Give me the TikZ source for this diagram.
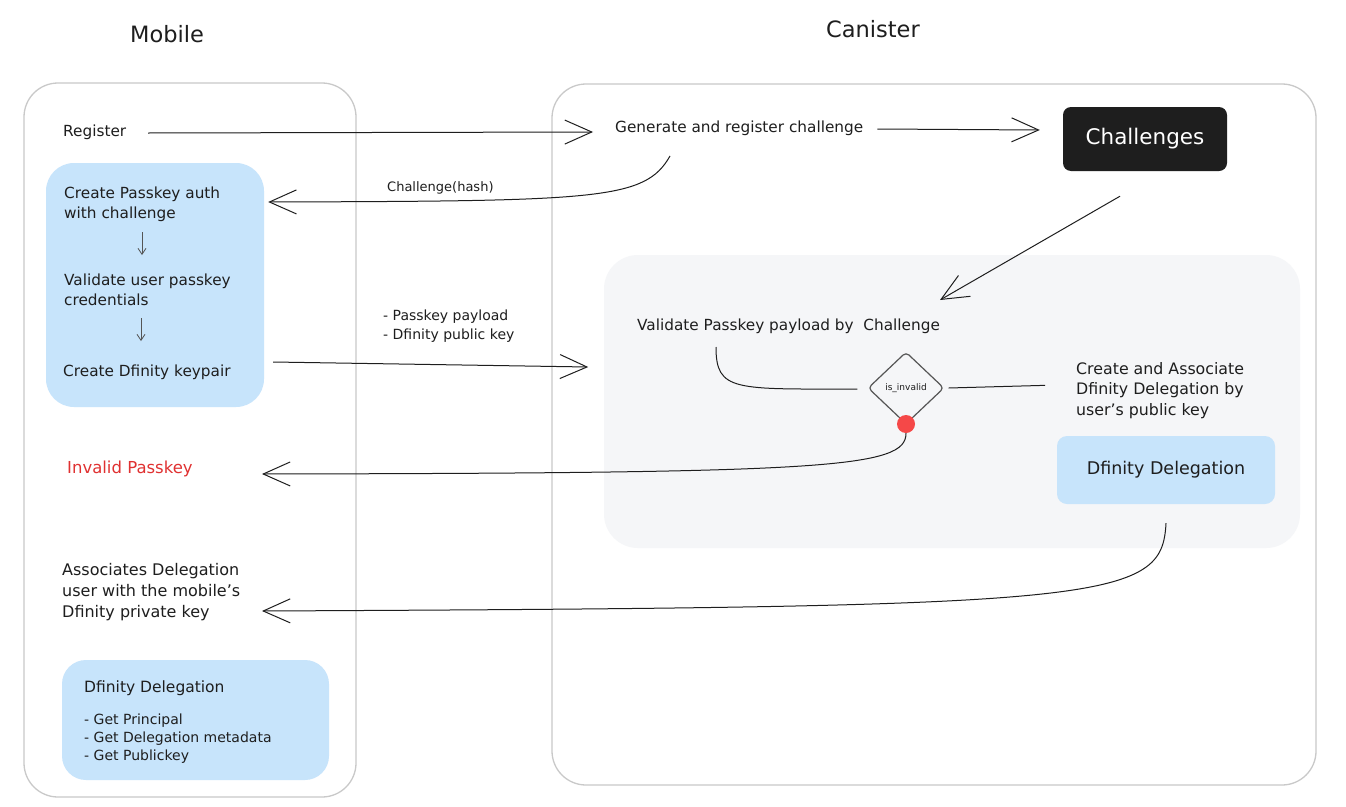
\documentclass[tikz,border=0pt]{standalone}
\usepackage{fontspec}
\setmainfont{DejaVu Sans}
\usetikzlibrary{arrows.meta,shapes.geometric,calc}
\definecolor{ink}{HTML}{1E1E1E}
\definecolor{frame}{HTML}{C9C9C9}
\definecolor{panel}{HTML}{F5F6F8}
\definecolor{bluefill}{HTML}{C7E4FB}
\definecolor{redtxt}{HTML}{E03131}
\definecolor{reddot}{HTML}{F54848}
\definecolor{grayarr}{HTML}{555555}
\tikzset{
  txt/.style={text=ink, font=\fontsize{15.3}{20}\selectfont, inner sep=0pt, align=left},
  title/.style={text=ink, font=\fontsize{22.5}{26}\selectfont, inner sep=0pt},
  container/.style={draw=frame, line width=1.3pt, rounded corners=34pt, fill=white},
  bluebox/.style={fill=bluefill, draw=none, rounded corners=28pt},
  arr/.style={draw=ink, line width=1pt, -{Straight Barb[length=27pt,width=24pt]}},
  line/.style={draw=ink, line width=1pt},
  smallarr/.style={draw=grayarr, line width=0.8pt, -{Straight Barb[length=6pt,width=8pt]}},
}
\begin{document}
\begin{tikzpicture}[x=1pt,y=-1pt]
\useasboundingbox (0,0) rectangle (1346,806);
\fill[white] (0,0) rectangle (1346,806);

% titles
\node[title] (tmob) at (167,34) {Mobile};
\node[title] (tcan) at (873,29) {Canister};

% containers
\draw[container] (24,83) rectangle (356,797);
\draw[container] (552,84) rectangle (1316,785);
\fill[panel, rounded corners=34pt] (604,255) rectangle (1300,548);

% mobile blue boxes
\node[bluebox, minimum width=218pt, minimum height=244pt] (pkbox) at (155,285) {};
\node[bluebox, rounded corners=24pt, minimum width=267pt, minimum height=120pt] (bb) at (195.5,720) {};

% mobile texts
\node[txt, anchor=west] (reg) at (63,132) {Register};
\node[txt, anchor=north west] (cp) at (64,187) {Create Passkey auth\\with challenge};
\node[txt, anchor=north west] (vu) at (64,274) {Validate user passkey\\credentials};
\node[txt, anchor=west] (cd) at (63,372) {Create Dfinity keypair};
\node[txt, anchor=west, text=redtxt, font=\fontsize{16.5}{20}\selectfont] (inv) at (67,469) {Invalid Passkey};
\node[txt, anchor=north west, font=\fontsize{16}{21}\selectfont] (assoc) at (62,563) {Associates Delegation\\user with the mobile's\\Dfinity private key};
\node[txt, anchor=west, font=\fontsize{15.5}{18}\selectfont] (bbt) at (84,688) {Dfinity Delegation};
\node[txt, anchor=north west, font=\fontsize{14}{18}\selectfont] (bbl) at (84,714) {- Get Principal\\- Get Delegation metadata\\- Get Publickey};

\coordinate (s1a) at (142,232);
\coordinate (s1b) at (142,255);
\coordinate (s2a) at (141,318);
\coordinate (s2b) at (141,341);
\draw[smallarr] (s1a) -- (s1b);
\draw[smallarr] (s2a) -- (s2b);

% canister texts
\node[txt, anchor=west] (gen) at (615,128) {Generate and register challenge};
\node[fill=ink, text=white, rounded corners=8pt, minimum width=164pt, minimum height=64pt, inner sep=0pt, font=\fontsize{21.5}{24}\selectfont] (chal) at (1145,139) {Challenges};
\node[txt, anchor=west, font=\fontsize{13}{18}\selectfont] (hash) at (387,188) {Challenge(hash)};
\node[txt, anchor=north west, font=\fontsize{14}{19}\selectfont] (pay) at (383,310) {- Passkey payload\\- Dfinity public key};
\node[txt, anchor=west] (vp) at (637,326) {Validate Passkey payload by\ \ Challenge};
\node[diamond, draw=grayarr, line width=1.2pt, rounded corners=4pt, minimum width=76pt, minimum height=72pt, inner sep=0pt, text=ink, font=\fontsize{9}{10}\selectfont] (dia) at (906,388) {is\_invalid};
\node[circle, fill=reddot, minimum size=18pt, inner sep=0pt] (dot) at (906,424) {};
\node[txt, anchor=north west, font=\fontsize{15.8}{20.5}\selectfont] (ca) at (1076,362) {Create and Associate\\Dfinity Delegation by\\user's public key};
\node[bluebox, rounded corners=10pt, minimum width=218pt, minimum height=68pt, txt, font=\fontsize{17.5}{20}\selectfont] (dd) at (1166,470) {Dfinity Delegation};

% connectors
\draw[arr] ($(reg.west)+(85,1)$) -- ($(gen.west)+(-22,4)$);
\draw[arr] ($(gen.east)+(14,1)$) -- ($(chal.west)+(-23,-9)$);
\draw[arr] ($(gen.west)+(55,28)$) .. controls (645,200) and (600,201) .. ($(pkbox.east)+(4,-83)$);
\draw[arr] ($(chal.south)+(-25,25)$) -- ($(vp.west)+(303,-26)$);
\draw[arr] ($(pkbox.east)+(9,77)$) -- ($(pkbox.east)+(324,82)$);
\draw[line] ($(vp.west)+(79,21)$) .. controls (716,392) and (735,389) .. ($(dia.west)+(-10,1)$);
\draw[line] ($(dia.east)+(4,0)$) -- ($(ca.west)+(-31,-5)$);
\draw[arr] (dot.south) .. controls (906,468) and (830,473) .. ($(inv.west)+(195,5)$);
\draw[arr] ($(dd.south)+(0,19)$) .. controls (1162,602) and (1110,607) .. ($(assoc.north west)+(200,48)$);
\end{tikzpicture}
\end{document}
